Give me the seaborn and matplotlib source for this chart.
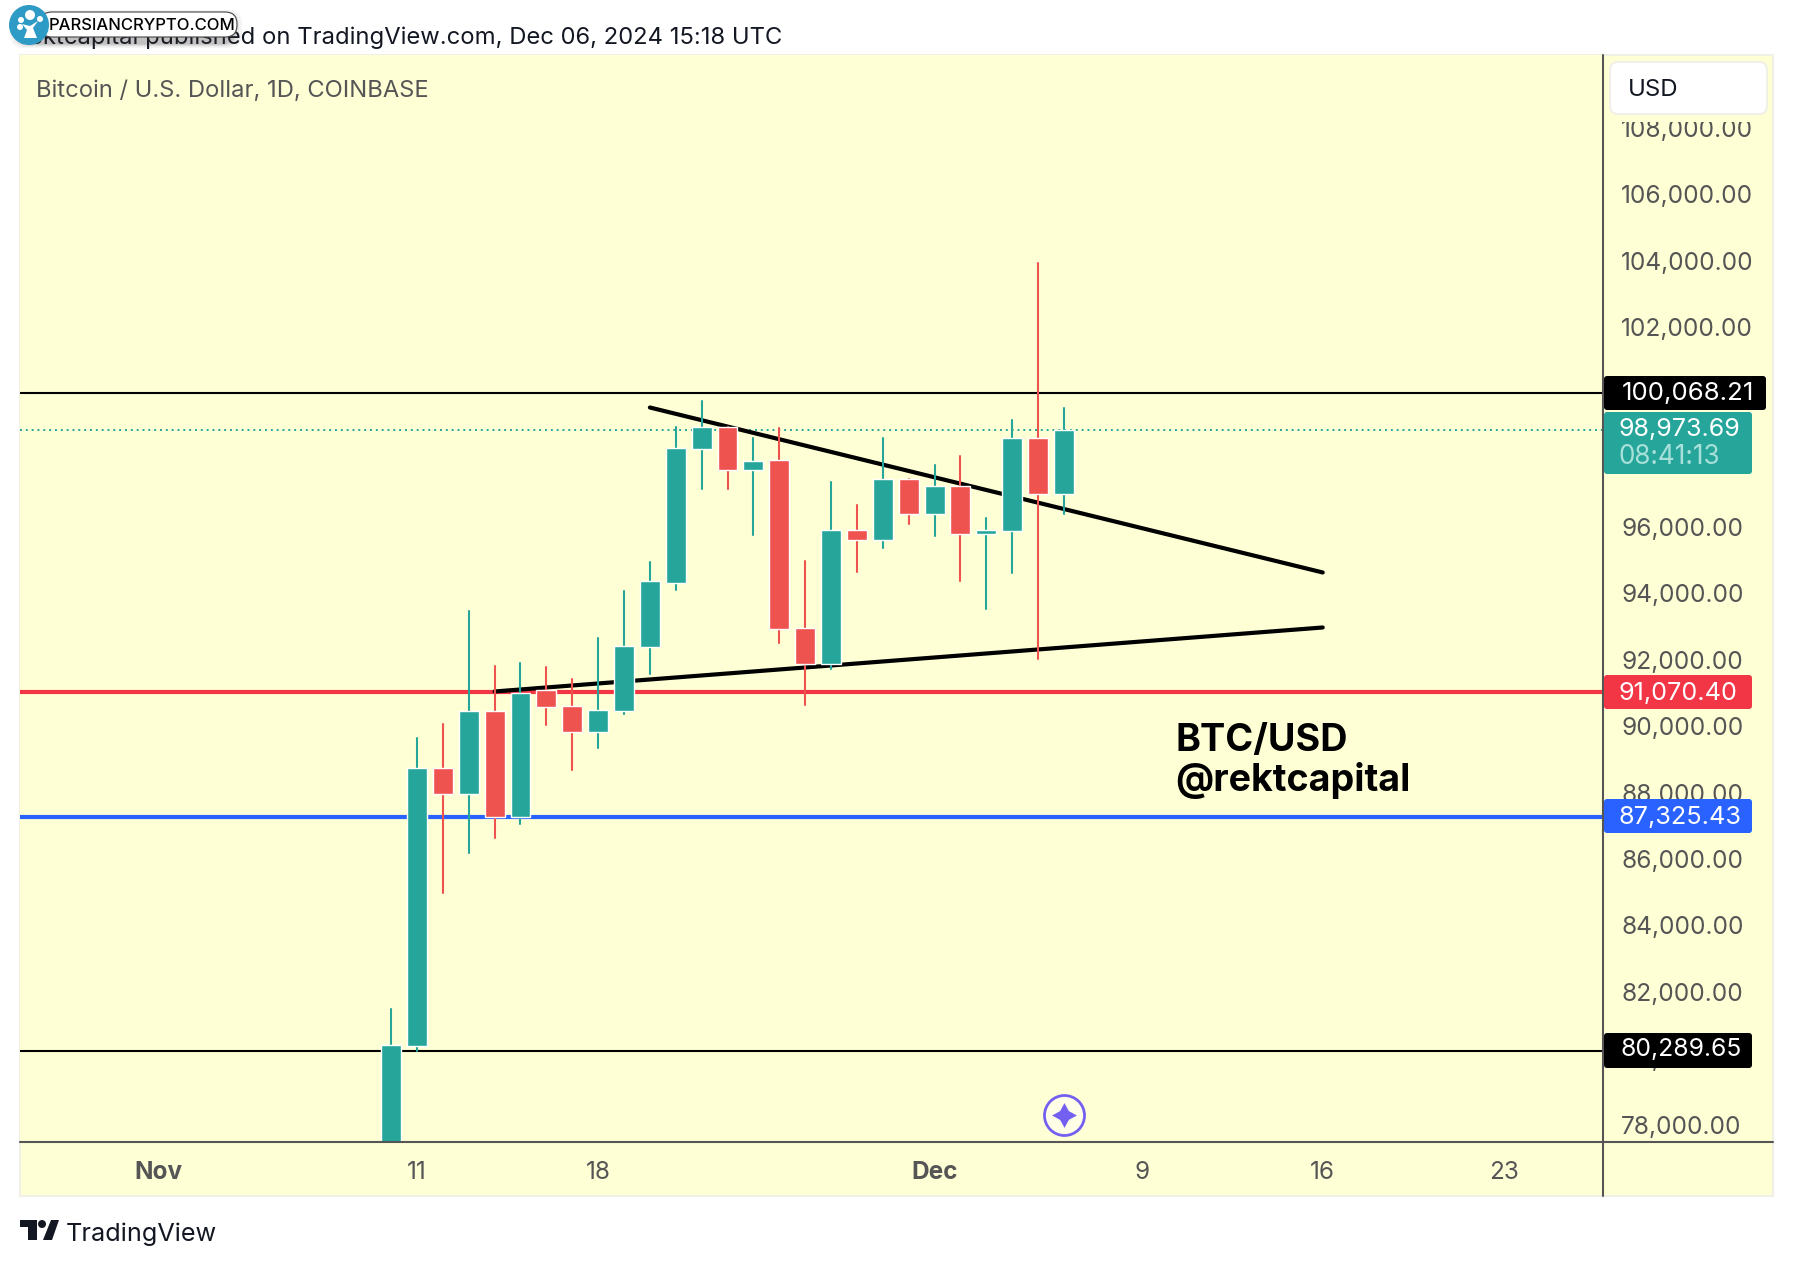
#!/usr/bin/env python3
"""BTC/USD daily candles with triangle trendlines, TradingView snapshot look."""
import matplotlib.pyplot as plt
import pandas as pd
import seaborn as sns
from matplotlib.patches import Circle, FancyBboxPatch, Polygon, Rectangle
from matplotlib.transforms import ScaledTranslation

# Candles, one per day. Day 1 = Nov 1, day 31 = Dec 1
days = list(range(10, 37))
opens = [76700, 80419, 88784, 88002, 90499, 87325, 91131, 90650, 89867, 90499,
         92425, 94351, 98413, 99045, 97751, 98052, 92997, 91914, 95946, 95645,
         97510, 96427, 97270, 95825, 95916, 98744, 97029]
closes = [80449, 88784, 88002, 90499, 87325, 91070, 90620, 89867, 90529, 92455,
          94411, 98443, 99045, 97751, 98022, 92967, 91914, 95946, 95645, 97510,
          96427, 97270, 95825, 95946, 98744, 97029, 98974]
highs = [81533, 89687, 90108, 93508, 91853, 91944, 91823, 91462, 92696, 94110,
         94983, 99075, 99857, 99045, 98714, 99015, 95013, 97390, 96698, 98744,
         97510, 97902, 98202, 96307, 99256, 104010, 99617]
lows = [76500, 80290, 85023, 86227, 86678, 87099, 90078, 88724, 89386, 90409,
        91613, 94140, 97209, 97209, 95795, 92545, 90680, 91763, 94682, 95404,
        96126, 95765, 94411, 93569, 94652, 92064, 96427]

# Horizontal levels and hand drawn trendlines (day, price)
resistance_top = 100068.21
last_price = 98973.69
level_red = 91070.40
level_blue = 87325.43
support_bottom = 80289.65
upper_trend_days = [20, 46]
upper_trend_prices = [99647, 94682]
lower_trend_days = [14, 46]
lower_trend_prices = [91101, 93027]

price_ticks = list(range(78000, 110000, 2000))
date_ticks = [1, 11, 18, 31, 39, 46, 53]
date_labels = ["Nov", "11", "18", "Dec", "9", "16", "23"]

# Chart window in image pixels
W, H = 1794, 1266
LEFT, RIGHT, TOP, BOTTOM = 20, 1603, 54.5, 1141.5
PANEL_RIGHT, PANEL_BOTTOM = 1773, 1196
XMIN, XMAX = -4.34, 56.83
YMIN, YMAX = 77558, 110270

PANEL = "#FFFFD6"
TEAL = "#26A69A"
RED = "#EF5350"
AXIS = "#555555"
FONT = "Inter"

sns.set_theme(style="white")
plt.rcParams["font.family"] = [FONT, "DejaVu Sans"]

df = pd.DataFrame({"day": days, "open": opens, "close": closes, "high": highs, "low": lows})
df["up"] = df["close"] >= df["open"]

fig = plt.figure(figsize=(W / 100, H / 100), dpi=100, facecolor="white")

# Panel behind everything, faint border like the screenshot
fig.add_artist(Rectangle((LEFT / W, 1 - PANEL_BOTTOM / H), (PANEL_RIGHT - LEFT) / W,
                         (PANEL_BOTTOM - TOP) / H, transform=fig.transFigure,
                         facecolor=PANEL, edgecolor="#F0F0E6", linewidth=1.5, zorder=-5))

ax = fig.add_axes([LEFT / W, 1 - BOTTOM / H, (RIGHT - LEFT) / W, (BOTTOM - TOP) / H])
ax.set_facecolor(PANEL)

# Levels
for price, color, width, style in [
    (resistance_top, "black", 1.5, "-"),
    (support_bottom, "black", 1.5, "-"),
    (level_red, "#F23645", 3, "-"),
    (level_blue, "#2962FF", 3, "-"),
    (last_price, TEAL, 1.4, (0, (1, 2))),
]:
    sns.lineplot(x=[XMIN, XMAX], y=[price, price], color=color, linewidth=width,
                 linestyle=style, ax=ax, zorder=1)

# Trendlines
for xs, ys in [(upper_trend_days, upper_trend_prices), (lower_trend_days, lower_trend_prices)]:
    sns.lineplot(x=xs, y=ys, color="black", linewidth=3, ax=ax, zorder=2,
                 solid_capstyle="round")

# Wicks then bodies
wicks = df.melt(id_vars=["day", "up"], value_vars=["high", "low"], value_name="price")
sns.lineplot(data=wicks, x="day", y="price", units="day", estimator=None, hue="up",
             palette={True: TEAL, False: RED}, linewidth=1.5, legend=False, ax=ax, zorder=3)
ax.bar(df["day"], (df["close"] - df["open"]).abs(), bottom=df[["open", "close"]].min(axis=1),
       width=0.77, color=[TEAL if u else RED for u in df["up"]], zorder=4)

# Event badge on the last candle
ax.scatter([36], [78343], s=830, facecolor="#FFFFE8", edgecolor="#7460F0", linewidth=2, zorder=5)
ax.scatter([36], [78343], s=320, marker=(4, 1, 0), color="#7460F0", linewidth=0, zorder=6)

ax.set_xlim(XMIN, XMAX)
ax.set_ylim(YMIN, YMAX)
ax.set_xlabel("")
ax.set_ylabel("")
ax.yaxis.tick_right()
ax.set_yticks(price_ticks)
ax.set_yticklabels([f"{p:,.2f}" for p in price_ticks], color=AXIS, fontsize=17.6)
ax.set_xticks(date_ticks)
ax.set_xticklabels(date_labels, color=AXIS, fontsize=17.5)
for label in ax.get_xticklabels():
    if label.get_text() in ("Nov", "Dec"):
        label.set_fontweight("bold")
ax.tick_params(axis="y", length=0, pad=13)
ax.tick_params(axis="x", length=0, pad=14)
# nudge price labels up a little
for label in ax.get_yticklabels():
    label.set_transform(label.get_transform() + ScaledTranslation(0, 0.02, fig.dpi_scale_trans))
sns.despine(ax=ax, top=True, left=True, right=True, bottom=True)

# Overlay in pixel coordinates for tags, header and logos
ov = fig.add_axes([0, 0, 1, 1], facecolor="none")
ov.set_xlim(0, W)
ov.set_ylim(H, 0)
ov.axis("off")

ov.plot([RIGHT, RIGHT], [TOP, PANEL_BOTTOM], color=AXIS, lw=1.5, zorder=1)
ov.plot([LEFT, PANEL_RIGHT], [BOTTOM, BOTTOM], color=AXIS, lw=1.5, zorder=1)


def tag(x0, x1, y0, y1, color):
    ov.add_patch(FancyBboxPatch((x0, y0), x1 - x0, y1 - y0, boxstyle="round,pad=0,rounding_size=3",
                                facecolor=color, edgecolor="none", zorder=3))


tag(1604, 1766, 376, 410, "black")
ov.text(1622, 394, "100,068.21", color="white", fontsize=18.6, va="center", zorder=4)
tag(1604, 1752, 412, 474, TEAL)
ov.text(1619, 429, "98,973.69", color="white", fontsize=18, va="center", zorder=4)
ov.text(1619, 457, "08:41:13", color="#A8E0DA", fontsize=18.8, va="center", zorder=4)
tag(1604, 1752, 675, 709, "#F23645")
ov.text(1619, 693, "91,070.40", color="white", fontsize=18.2, va="center", zorder=4)
tag(1604, 1752, 799, 833, "#2962FF")
ov.text(1619, 817, "87,325.43", color="white", fontsize=18.2, va="center", zorder=4)
tag(1604, 1752, 1033, 1068, "black")
ov.text(1620, 1050, "80,289.65", color="white", fontsize=17.8, va="center", zorder=4)

# USD button, with the strip under it that cuts off the top price label
ov.add_patch(Rectangle((1605, 56), 166, 66, facecolor=PANEL, edgecolor="none", zorder=2))
ov.add_patch(FancyBboxPatch((1610, 62), 157, 52, boxstyle="round,pad=0,rounding_size=8",
                            facecolor="white", edgecolor="#F0F0E6", linewidth=1.5, zorder=3))
ov.text(1628, 90, "USD", color="#131722", fontsize=17.3, va="center", zorder=4)

ov.text(36, 91, "Bitcoin / U.S. Dollar, 1D, COINBASE", color=AXIS, fontsize=17.1, va="center")
ov.text(1175, 751, "BTC/USD", color="black", fontsize=27.2, fontweight="bold", va="baseline")
ov.text(1175, 791, "@rektcapital", color="black", fontsize=27.1, fontweight="bold", va="baseline")

ov.text(20, 38, "rektcapital published on TradingView.com, Dec 06, 2024 15:18 UTC",
        color="#131722", fontsize=17.15, va="center")

# TradingView logo
LOGO = "#131722"
ov.add_patch(Polygon([(20, 1220), (37, 1220), (37, 1240), (28, 1240), (28, 1227), (20, 1227)],
                     facecolor=LOGO, edgecolor="none"))
ov.add_patch(Circle((42, 1224), 4, facecolor=LOGO, edgecolor="none"))
ov.add_patch(Polygon([(51, 1220), (59, 1220), (52, 1240), (43, 1240)], facecolor=LOGO, edgecolor="none"))
ov.text(66, 1234, "TradingView", color=LOGO, fontsize=18.2, va="center")

# Watermark pill with a soft shadow over the header text
for grow, alpha in [(8, 0.05), (5, 0.07), (3, 0.09), (1, 0.12)]:
    ov.add_patch(FancyBboxPatch((18 - grow, 14 - grow / 2), 216 + 2 * grow, 30 + grow,
                                boxstyle="round,pad=0,rounding_size=14", facecolor="#333333",
                                edgecolor="none", alpha=alpha, zorder=6))
ov.add_patch(FancyBboxPatch((40, 12), 197, 25, boxstyle="round,pad=0,rounding_size=12",
                            facecolor="white", edgecolor="#444444", linewidth=0.8, zorder=7))
ov.text(49, 26, "PARSIANCRYPTO.COM", color="black", fontsize=12, fontweight="medium",
        va="center", zorder=8)
ov.add_patch(Circle((29, 25), 20, facecolor="#2E9AC6", edgecolor="none", zorder=9))
ov.add_patch(Polygon([(24, 38), (37, 38), (33, 28), (38, 21), (30, 26), (22, 24), (27, 30)],
                     facecolor="white", edgecolor="none", zorder=10))
for cx, cy, r in [(30, 15, 5), (21, 20, 3), (40, 19, 3), (20, 27, 3)]:
    ov.add_patch(Circle((cx, cy), r, facecolor="white", edgecolor="none", zorder=10))

fig.savefig("out.png", dpi=100, facecolor="white")
